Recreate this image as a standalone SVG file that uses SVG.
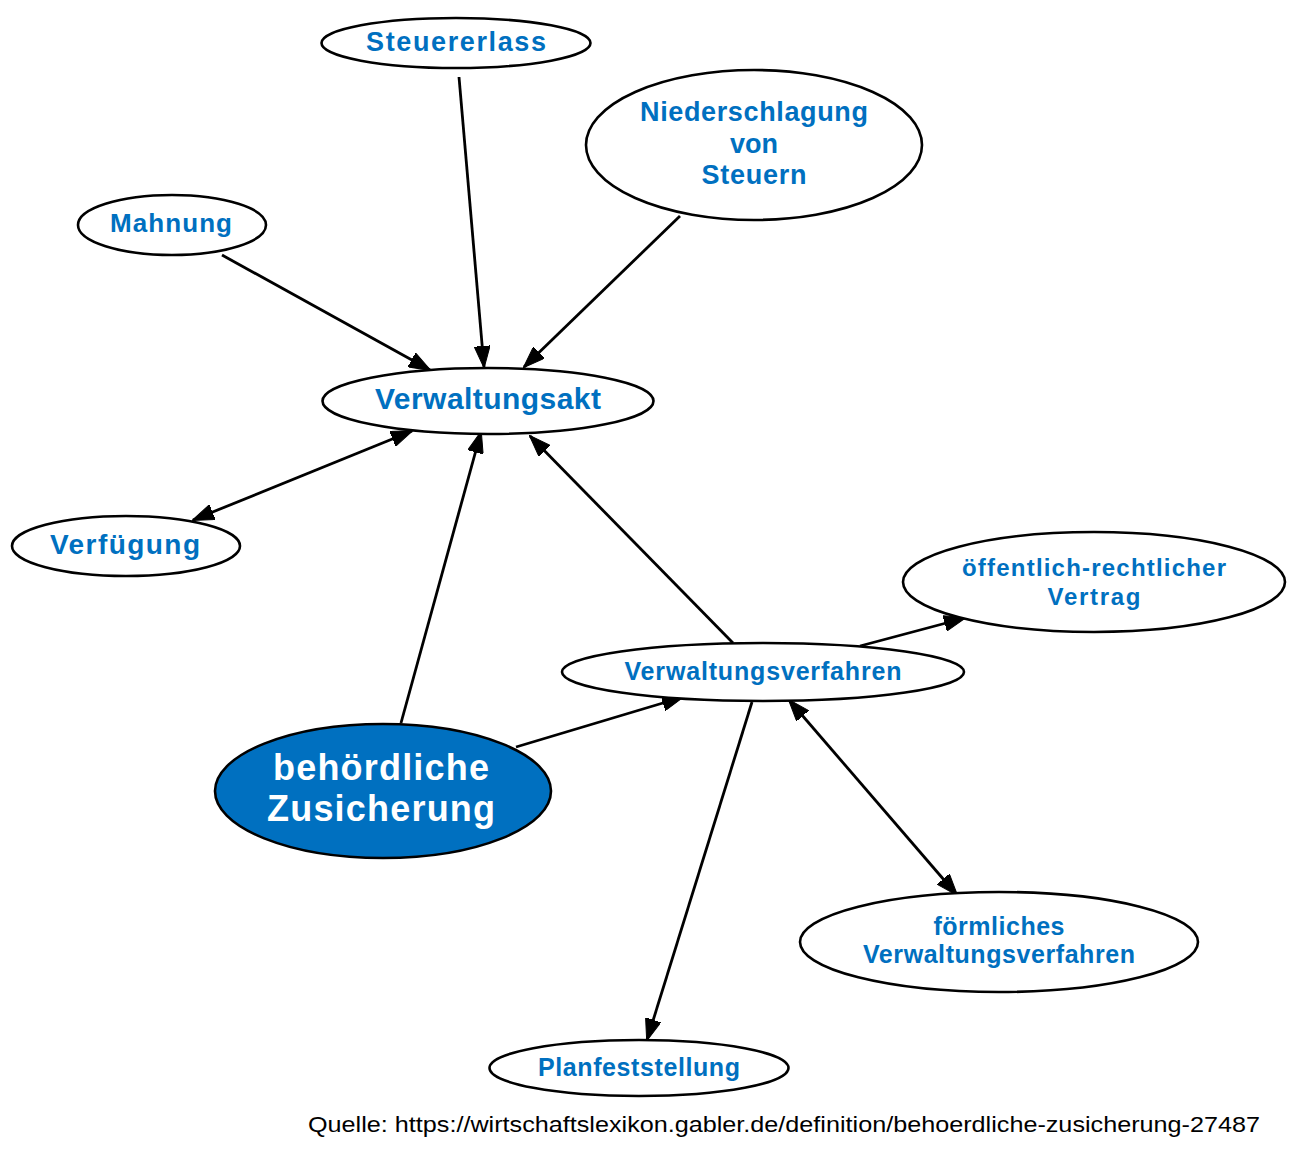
<svg xmlns="http://www.w3.org/2000/svg" width="1300" height="1166" viewBox="0 0 1300 1166">
<style>
.n ellipse{fill:#fff;stroke:#000;stroke-width:2.6}
.n text{font-family:"Liberation Sans",Arial,sans-serif;font-weight:bold;fill:#0070c0;text-anchor:middle}
.main ellipse{fill:#0070c0}
.main text{fill:#fff}
.e line{stroke:#000;stroke-width:2.8}
.src{font-family:"Liberation Sans",Arial,sans-serif;font-size:22px;fill:#000}
</style>
<defs>
<marker id="ah" viewBox="0 0 22 16" refX="21" refY="8" markerWidth="22" markerHeight="16" markerUnits="userSpaceOnUse" orient="auto-start-reverse">
<path d="M0,0 L22,8 L0,16 z" fill="#000" stroke="#000" stroke-width="1"/>
</marker>
</defs>
<rect width="1300" height="1166" fill="#fff"/>
<g class="e" id="edges">
<line x1="459" y1="77" x2="484" y2="367" marker-end="url(#ah)"/>
<line x1="680" y1="216" x2="524" y2="367" marker-end="url(#ah)"/>
<line x1="222" y1="255" x2="430" y2="370" marker-end="url(#ah)"/>
<line x1="193" y1="520" x2="412" y2="431" marker-start="url(#ah)" marker-end="url(#ah)"/>
<line x1="401" y1="723" x2="481" y2="432" marker-end="url(#ah)"/>
<line x1="733" y1="643" x2="530" y2="436" marker-end="url(#ah)"/>
<line x1="860" y1="646" x2="965" y2="618" marker-end="url(#ah)"/>
<line x1="516" y1="747" x2="683" y2="697" marker-end="url(#ah)"/>
<line x1="752" y1="702" x2="647" y2="1040" marker-end="url(#ah)"/>
<line x1="789" y1="700" x2="957" y2="895" marker-start="url(#ah)" marker-end="url(#ah)"/>
</g>
<g class="n" id="steuererlass"><ellipse cx="456" cy="43" rx="134.5" ry="25"/><text x="456" y="51" font-size="27" textLength="180" lengthAdjust="spacing">Steuererlass</text></g>
<g class="n" id="niederschlagung"><ellipse cx="754" cy="145" rx="168" ry="75"/>
<text x="754" y="121" font-size="27" textLength="228" lengthAdjust="spacing">Niederschlagung</text>
<text x="754" y="153" font-size="27">von</text>
<text x="754" y="184" font-size="27" textLength="105" lengthAdjust="spacing">Steuern</text></g>
<g class="n" id="mahnung"><ellipse cx="172" cy="225" rx="94" ry="30"/><text x="171" y="232" font-size="26" textLength="122" lengthAdjust="spacing">Mahnung</text></g>
<g class="n" id="verwaltungsakt"><ellipse cx="488" cy="401" rx="165.5" ry="33"/><text x="488" y="409" font-size="30" textLength="226" lengthAdjust="spacing">Verwaltungsakt</text></g>
<g class="n" id="verfuegung"><ellipse cx="126" cy="546" rx="114" ry="30"/><text x="125" y="554" font-size="28" textLength="150" lengthAdjust="spacing">Verfügung</text></g>
<g class="n" id="vertrag"><ellipse cx="1094" cy="582" rx="191" ry="50"/>
<text x="1094" y="576" font-size="24" textLength="264" lengthAdjust="spacing">öffentlich-rechtlicher</text>
<text x="1094" y="605" font-size="24" textLength="93" lengthAdjust="spacing">Vertrag</text></g>
<g class="n" id="verwaltungsverfahren"><ellipse cx="763" cy="672" rx="201" ry="29"/><text x="763" y="680" font-size="25" textLength="277" lengthAdjust="spacing">Verwaltungsverfahren</text></g>
<g class="n main" id="zusicherung"><ellipse cx="383" cy="791" rx="168" ry="67"/>
<text x="381" y="780" font-size="36" textLength="216" lengthAdjust="spacing">behördliche</text>
<text x="381" y="821" font-size="36" textLength="228" lengthAdjust="spacing">Zusicherung</text></g>
<g class="n" id="foermlich"><ellipse cx="999" cy="942" rx="199" ry="50"/>
<text x="999" y="935" font-size="25" textLength="131" lengthAdjust="spacing">förmliches</text>
<text x="999" y="963" font-size="25" textLength="272" lengthAdjust="spacing">Verwaltungsverfahren</text></g>
<g class="n" id="planfeststellung"><ellipse cx="639" cy="1068" rx="149.5" ry="28"/><text x="639" y="1076" font-size="25" textLength="202" lengthAdjust="spacing">Planfeststellung</text></g>
<text class="src" x="308" y="1132" textLength="952" lengthAdjust="spacingAndGlyphs">Quelle: https://wirtschaftslexikon.gabler.de/definition/behoerdliche-zusicherung-27487</text>
</svg>
